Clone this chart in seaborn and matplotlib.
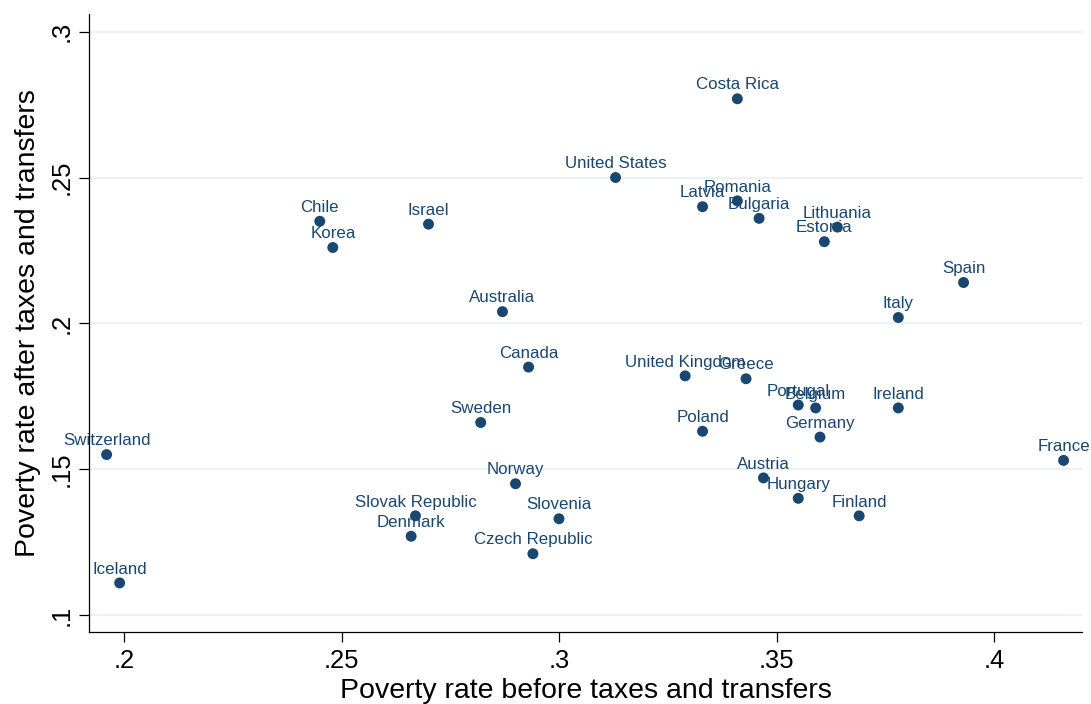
import matplotlib
matplotlib.use("Agg")
import matplotlib.pyplot as plt
import pandas as pd
import seaborn as sns

# poverty rates before / after taxes and transfers
countries = [
    "Switzerland", "Iceland", "Chile", "Korea", "Israel", "Australia",
    "Canada", "Sweden", "Norway", "Slovak Republic", "Denmark", "Slovenia",
    "Czech Republic", "United States", "Costa Rica", "Latvia", "Romania",
    "Bulgaria", "Lithuania", "Estonia", "Spain", "Italy", "Ireland", "France",
    "United Kingdom", "Greece", "Portugal", "Belgium", "Poland", "Germany",
    "Austria", "Hungary", "Finland",
]
before = [
    0.196, 0.199, 0.245, 0.248, 0.270, 0.287,
    0.293, 0.282, 0.290, 0.267, 0.266, 0.300,
    0.294, 0.313, 0.341, 0.333, 0.341,
    0.346, 0.364, 0.361, 0.393, 0.378, 0.378, 0.416,
    0.329, 0.343, 0.355, 0.359, 0.333, 0.360,
    0.347, 0.355, 0.369,
]
after = [
    0.155, 0.111, 0.235, 0.226, 0.234, 0.204,
    0.185, 0.166, 0.145, 0.134, 0.127, 0.133,
    0.121, 0.250, 0.277, 0.240, 0.242,
    0.236, 0.233, 0.228, 0.214, 0.202, 0.171, 0.153,
    0.182, 0.181, 0.172, 0.171, 0.163, 0.161,
    0.147, 0.140, 0.134,
]
xticks = [0.2, 0.25, 0.3, 0.35, 0.4]
xticklabels = [".2", ".25", ".3", ".35", ".4"]
yticks = [0.1, 0.15, 0.2, 0.25, 0.3]
yticklabels = [".1", ".15", ".2", ".25", ".3"]

df = pd.DataFrame({"country": countries, "before": before, "after": after})

navy = "#1a476f"
sns.set_style("white")
plt.rcParams["font.family"] = ["Liberation Sans", "DejaVu Sans"]

W, H = 1091, 704
fig = plt.figure(figsize=(W / 100, H / 100), dpi=100)
ax = fig.add_axes([89 / W, 1 - 631.7 / H, (1082 - 89) / W, (631.7 - 14) / H])

sns.scatterplot(data=df, x="before", y="after", color=navy, s=62,
                edgecolor="none", linewidth=0, ax=ax, zorder=3)

for c, x, y in zip(df["country"], df["before"], df["after"]):
    ax.annotate(c, (x, y), xytext=(0, 6.7), textcoords="offset points",
                ha="center", va="baseline", fontsize=12.2, color=navy, zorder=4)

ax.set_xlim(0.19195, 0.42023)
ax.set_ylim(0.09427, 0.30607)

ax.set_yticks(yticks)
ax.set_yticklabels(yticklabels, rotation=90, va="center")
ax.set_xticks(xticks)
ax.set_xticklabels(xticklabels)

ax.yaxis.grid(True, color="#eaf2f3", linewidth=1.6)
ax.xaxis.grid(False)
ax.set_axisbelow(True)

for side in ["top", "right"]:
    ax.spines[side].set_visible(False)
for side in ["left", "bottom"]:
    ax.spines[side].set_color("black")
    ax.spines[side].set_linewidth(0.9)

ax.tick_params(axis="both", which="major", direction="out", length=7.2,
               width=0.9, color="black", labelsize=18.4, labelcolor="black",
               left=True, bottom=True)
ax.tick_params(axis="x", pad=5)
ax.tick_params(axis="y", pad=4)

ax.set_xlabel("Poverty rate before taxes and transfers", fontsize=20.5,
              labelpad=4, color="black")
ax.set_ylabel("Poverty rate after taxes and transfers", fontsize=20.5,
              labelpad=6, color="black")

fig.savefig("out.png", dpi=100)
